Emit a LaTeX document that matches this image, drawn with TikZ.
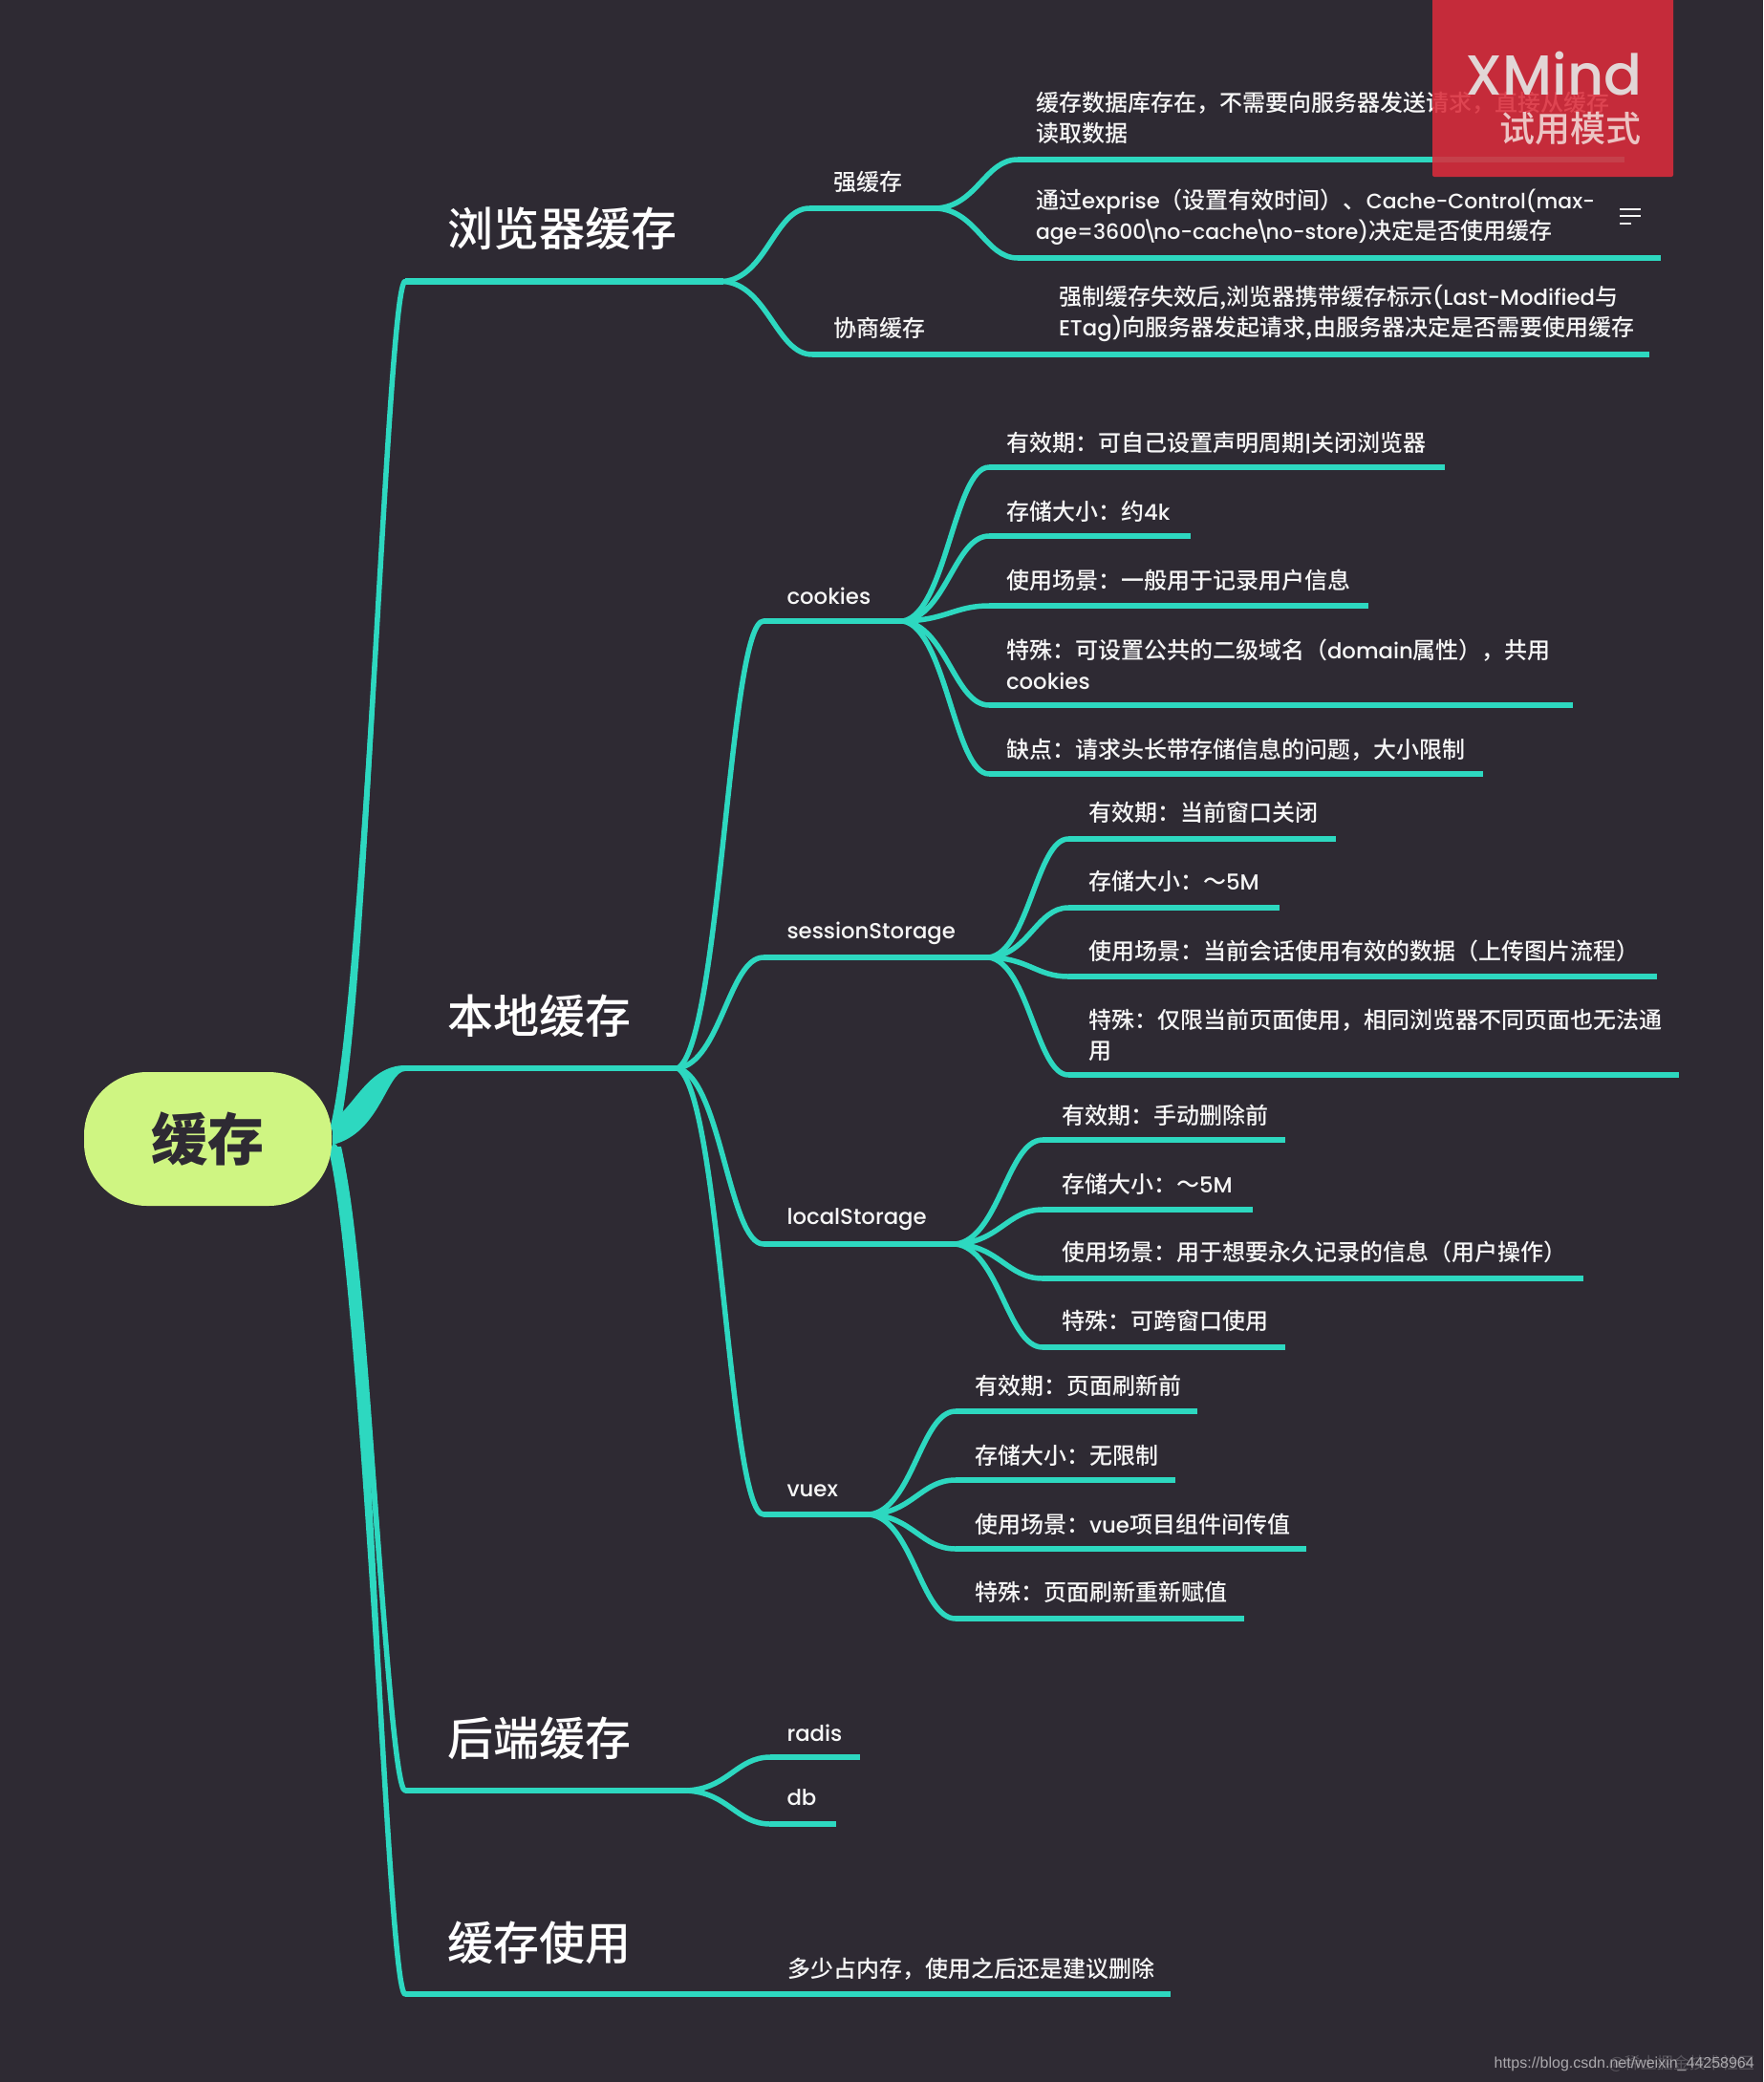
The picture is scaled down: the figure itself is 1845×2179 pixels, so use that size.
\documentclass[tikz,border=0pt]{standalone}
\usepackage{fontspec}
\setmainfont{Noto Sans CJK SC}
\newfontfamily\medf{Noto Sans CJK SC Medium}
\newfontfamily\latf[Scale=0.95]{Poppins Medium}
\newfontfamily\latnf[Scale=0.913]{Poppins Medium}
\newfontfamily\badgef{Poppins Medium}
\newfontfamily\wmf{Liberation Sans}
\newcommand{\la}[1]{{\latf #1}}
\newcommand{\lan}[1]{{\latnf #1}}
\newcommand{\tightbs}{\kern-4pt\textbackslash\kern-4pt}
\usetikzlibrary{calc}
\definecolor{mmbg}{RGB}{46,42,51}
\definecolor{mmteal}{RGB}{45,216,192}
\definecolor{mmroot}{RGB}{207,245,130}
\definecolor{mmred}{RGB}{219,44,59}
\definecolor{mmtext}{RGB}{246,246,246}
\tikzset{
  hline/.style={draw=mmteal,line width=6.5pt,line cap=butt},
  conn/.style={draw=mmteal,line width=5.5pt,line cap=round},
  txt/.style={anchor=west,inner sep=0pt,outer sep=0pt,align=left,text=mmtext,yshift=-0.6pt,font=\medf\fontsize{24}{32}\selectfont},
  topic/.style={anchor=west,inner sep=0pt,outer sep=0pt,text=white,font=\medf\fontsize{48}{50}\selectfont},
  rootbox/.style={rectangle,rounded corners=66pt,fill=mmroot,minimum width=259pt,minimum height=140pt,inner sep=0pt,text=mmbg,font=\fontsize{59}{60}\selectfont\bfseries},
}
% curved connector between levels
\newcommand{\lnk}[2]{\draw[conn] let \p1=(#1),\p2=(#2) in (\p1) .. controls ({\x1+.5*(\x2-\x1)},{\y1+.05*(\y2-\y1)}) and ({\x2-.4*(\x2-\x1)},\y2) .. (\p2);}
% connector from the root: steep start
\newcommand{\lnkr}[2]{\draw[conn] let \p1=(#1),\p2=(#2) in (\p1) .. controls ({\x1+.45*(\x2-\x1)},{\y1+.15*(\y2-\y1)}) and ({\x2-.25*(\x2-\x1)},\y2) .. (\p2);}
% tapered thickening from the root (horizontal half width #3 at the root)
\newcommand{\taper}[3]{\fill[mmteal] let \p1=(#1),\p2=(#2) in
  ({\x1+#3pt},{\y1}) .. controls ({\x1+.45*(\x2-\x1)+.7*#3pt},{\y1+.15*(\y2-\y1)}) and ({\x2-.25*(\x2-\x1)+.2*#3pt},{\y2}) .. ({\x2},{\y2})
  .. controls ({\x2-.25*(\x2-\x1)-.2*#3pt},{\y2}) and ({\x1+.45*(\x2-\x1)-.7*#3pt},{\y1+.15*(\y2-\y1)}) .. ({\x1-#3pt},{\y1}) -- cycle;}
% #1 name, #2 parent junction, #3 line start x, #4 line y, #5 line end x
\newcommand{\stem}[5]{\coordinate (s#1) at (#3,#4);\coordinate (e#1) at (#5,#4);\lnk{#2}{s#1}\draw[hline] (s#1) -- (e#1);}
\begin{document}
\begin{tikzpicture}[x=1pt,y=-1pt]
\useasboundingbox (0,0) rectangle (1845,2179);
\fill[mmbg] (0,0) rectangle (1845,2179);

% main branches
\coordinate (r1) at (350,1182);
\coordinate (r3) at (350,1200);
\coordinate (r4) at (350,1200);
\coordinate (b1s) at (424,294.5); \coordinate (b1e) at (757,294.5);
\coordinate (b2s) at (424,1118);  \coordinate (b2e) at (709,1118);
\coordinate (b3s) at (424,1874);  \coordinate (b3e) at (718,1874);
\coordinate (b4s) at (424,2087);  \coordinate (b4e) at (1225,2087);
\coordinate (r2t) at (348,1172); \coordinate (r2b) at (348,1198);
\coordinate (b2t) at (424,1115); \coordinate (b2b) at (424,1121);
\lnkr{r1}{b1s}
\lnkr{r3}{b3s}
\lnkr{r4}{b4s}
\taper{r1}{b1s}{5}
\taper{r3}{b3s}{6}
\taper{r4}{b4s}{7}
\fill[mmteal] (r2t) .. controls (370,1160) and (385,1115) .. (b2t) -- (b2b) .. controls (405,1121) and (398,1186) .. (r2b) -- cycle;
\node[rootbox] (root) at (217.5,1192) {\raisebox{1pt}{缓存}};
\draw[hline] (b1s) -- (b1e);
\draw[hline] (b2s) -- (b2e);
\draw[hline] (b3s) -- (b3e);
\draw[hline] (b4s) -- (b4e);
\node[topic] (t1) at (468,239) {浏览器缓存};
\node[topic] (t2) at (468,1063) {本地缓存};
\node[topic] (t3) at (468,1819) {后端缓存};
\node[topic] (t4) at (468,2033) {缓存使用};
\node[txt] (t4a) at (824,2060) {多少占内存，使用之后还是建议删除};

% browser cache
\stem{qiang}{b1e}{847}{218}{980}
\node[txt] (lqiang) at (872,190) {强缓存};
\stem{qa}{eqiang}{1065}{167}{1700}
\node[txt] (tqa) at (1084,123) {缓存数据库存在，不需要向服务器发送请求，直接从缓存\\读取数据};
\stem{qb}{eqiang}{1065}{270}{1738}
\node[txt] (tqb) at (1084,227) {通过\la{exprise}（设置有效时间）、\lan{Cache-Control(max-}\\\lan{age=3600\tightbs no-cache\tightbs no-store)}决定是否使用缓存};
\stem{xie}{b1e}{850}{371}{1726}
\node[txt] (lxie) at (872,343) {协商缓存};
\node[txt] (txie) at (1108,327) {强制缓存失效后,浏览器携带缓存标示\la{(Last-Modified}与\\\la{ETag)}向服务器发起请求,由服务器决定是否需要使用缓存};
\coordinate (m1a) at (1695,219); \coordinate (m1b) at (1717,219);
\coordinate (m2a) at (1695,226); \coordinate (m2b) at (1717,226);
\coordinate (m3a) at (1695,234); \coordinate (m3b) at (1707,234);
\draw[mmtext,line width=2.2pt] (m1a) -- (m1b) (m2a) -- (m2b) (m3a) -- (m3b);

% cookies
\stem{co}{b2e}{799}{650}{945}
\node[txt] (lco) at (823.5,623) {\la{cookies}};
\stem{coa}{eco}{1035}{489}{1512}
\node[txt] (tcoa) at (1053,463) {有效期：可自己设置声明周期\la{|}关闭浏览器};
\stem{cob}{eco}{1035}{561}{1246}
\node[txt] (tcob) at (1053,535) {存储大小：约\la{4k}};
\stem{coc}{eco}{1035}{634}{1432}
\node[txt] (tcoc) at (1053,607) {使用场景：一般用于记录用户信息};
\stem{cod}{eco}{1035}{738}{1646}
\node[txt] (tcod) at (1053,695) {特殊：可设置公共的二级域名（\la{domain}属性），共用\\\la{cookies}};
\stem{coe}{eco}{1035}{810}{1552}
\node[txt] (tcoe) at (1053,784) {缺点：请求头长带存储信息的问题，大小限制};

% sessionStorage
\stem{se}{b2e}{799}{1002}{1035}
\node[txt] (lse) at (823.5,976) {\la{sessionStorage}};
\stem{sea}{ese}{1118}{878}{1398}
\node[txt] (tsea) at (1139,850) {有效期：当前窗口关闭};
\stem{seb}{ese}{1118}{950}{1339}
\node[txt] (tseb) at (1139,922) {存储大小：～\la{5M}};
\stem{sec}{ese}{1118}{1022}{1734}
\node[txt] (tsec) at (1139,995) {使用场景：当前会话使用有效的数据（上传图片流程）};
\stem{sed}{ese}{1118}{1125}{1757}
\node[txt] (tsed) at (1139,1083) {特殊：仅限当前页面使用，相同浏览器不同页面也无法通\\用};

% localStorage
\stem{lo}{b2e}{799}{1302}{1000}
\node[txt] (llo) at (823.5,1276) {\la{localStorage}};
\stem{loa}{elo}{1091}{1193}{1345}
\node[txt] (tloa) at (1111,1167) {有效期：手动删除前};
\stem{lob}{elo}{1091}{1266}{1311}
\node[txt] (tlob) at (1111,1239) {存储大小：～\la{5M}};
\stem{loc}{elo}{1091}{1338}{1657}
\node[txt] (tloc) at (1111,1310) {使用场景：用于想要永久记录的信息（用户操作）};
\stem{lod}{elo}{1091}{1410}{1345}
\node[txt] (tlod) at (1111,1382) {特殊：可跨窗口使用};

% vuex
\stem{vu}{b2e}{799}{1585}{910}
\node[txt] (lvu) at (823.5,1560) {\la{vuex}};
\stem{vua}{evu}{1000}{1477}{1253}
\node[txt] (tvua) at (1020,1450) {有效期：页面刷新前};
\stem{vub}{evu}{1000}{1549}{1230}
\node[txt] (tvub) at (1020,1523) {存储大小：无限制};
\stem{vuc}{evu}{1000}{1621}{1367}
\node[txt] (tvuc) at (1020,1595) {使用场景：\la{vue}项目组件间传值};
\stem{vud}{evu}{1000}{1694}{1302}
\node[txt] (tvud) at (1020,1666) {特殊：页面刷新重新赋值};

% backend
\stem{ra}{b3e}{806}{1839}{900}
\node[txt] (lra) at (823.5,1813) {\la{radis}};
\stem{db}{b3e}{806}{1909}{875}
\node[txt] (ldb) at (823.5,1881) {\la{db}};

% trial badge
\fill[mmred,opacity=.88,rounded corners=2pt] (1499,-5) rectangle (1751,185);
\node[anchor=east,inner sep=0pt,text={rgb,255:red,226;green,214;blue,214},font=\badgef\fontsize{59}{62}\selectfont] (xm) at (1719,77) {XMind};
\node[anchor=east,inner sep=0pt,text={rgb,255:red,236;green,196;blue,196},font=\medf\fontsize{37}{40}\selectfont] (xt) at (1718,135) {试用模式};

% watermark
\node[anchor=east,inner sep=0pt,text=white,opacity=.2,font=\fontsize{17}{18}\selectfont] (wm2) at (1836,2160) {@稀土掘金技术社区};
\node[anchor=east,inner sep=0pt,text={rgb,255:red,170;green,168;blue,172},font=\wmf\fontsize{16}{18}\selectfont] (wm) at (1836,2160) {https://blog.csdn.net/weixin\_44258964};
\end{tikzpicture}
\end{document}
